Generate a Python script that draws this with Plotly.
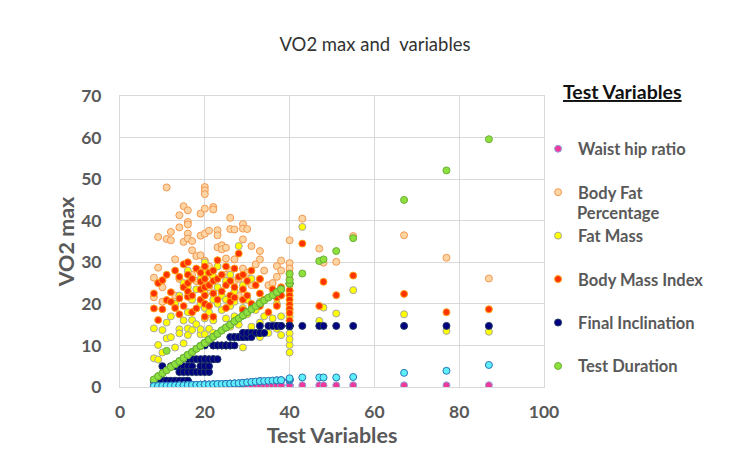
import plotly.graph_objects as go

# ---------------- data ----------------
x_vals = [8, 8, 9, 9, 10, 10, 11, 11, 12, 12, 13, 13, 14, 14, 14, 15, 15, 15,
          16, 16, 16, 16, 16, 17, 17, 17, 18, 18, 19, 19, 19, 19,
          20, 20, 20, 20, 20, 20, 21, 21, 21, 22, 22, 22, 22, 23, 23, 23,
          24, 24, 25, 25, 25, 26, 26, 26, 27, 27, 27, 28, 28, 29, 29, 29, 29,
          30, 30, 31, 31, 32, 33, 33, 33, 34, 35, 36, 37, 37, 38, 38,
          40, 40, 40, 40, 40, 40, 40, 43, 47, 48, 51, 55, 67, 77, 87]

waist_hip = [0.40, 0.42, 0.38, 0.41, 0.43, 0.39, 0.40, 0.44, 0.41, 0.37, 0.42, 0.40, 0.39, 0.43, 0.41, 0.40, 0.38, 0.42,
             0.41, 0.39, 0.43, 0.40, 0.42, 0.38, 0.41, 0.40, 0.43, 0.39, 0.42, 0.40, 0.41, 0.38,
             0.40, 0.42, 0.39, 0.41, 0.43, 0.40, 0.38, 0.42, 0.41, 0.39, 0.40, 0.43, 0.41, 0.42, 0.38, 0.40,
             0.41, 0.39, 0.42, 0.40, 0.43, 0.38, 0.41, 0.40, 0.42, 0.39, 0.41, 0.40, 0.43, 0.38, 0.42, 0.41, 0.40,
             0.39, 0.42, 0.41, 0.40, 0.43, 0.38, 0.41, 0.40, 0.42, 0.39, 0.41, 0.40, 0.42, 0.38, 0.41,
             0.40, 0.42, 0.39, 0.41, 0.43, 0.40, 0.38, 0.42, 0.41, 0.40, 0.39, 0.42, 0.41, 0.40, 0.43]

body_fat = [26.3, 21.6, 36.1, 28.7, 24.0, 20.5, 48.0, 35.6, 37.3, 35.3, 30.7, 22.0, 41.3, 38.4, 26.0, 43.5, 34.9, 24.5,
            42.5, 39.7, 39.1, 36.9, 35.7, 32.9, 35.1, 27.0, 31.5, 25.5, 41.7, 36.4, 31.7, 28.0,
            48.1, 47.3, 46.4, 42.9, 36.9, 30.4, 37.6, 29.0, 24.0, 43.3, 42.7, 26.5, 22.5, 37.7, 36.5, 33.6,
            34.1, 33.1, 33.5, 30.9, 27.0, 40.7, 38.0, 28.0, 37.9, 30.7, 25.5, 26.0, 22.0, 39.2, 38.1, 35.5, 28.5,
            38.0, 27.5, 33.9, 24.5, 29.5, 32.7, 30.7, 26.0, 28.0, 24.5, 25.0, 29.1, 26.5, 30.4, 28.0,
            35.3, 29.8, 28.5, 27.3, 26.0, 24.8, 23.0, 40.5, 33.3, 29.9, 30.1, 36.3, 36.5, 31.1, 26.1]

fat_mass = [14.1, 6.9, 10.1, 6.6, 13.7, 8.3, 11.7, 15.5, 12.0, 17.0, 9.5, 20.0, 13.9, 12.9, 22.0, 16.0, 10.5, 25.0,
            14.1, 18.0, 24.0, 28.0, 12.5, 16.1, 21.0, 13.7, 15.1, 23.5, 12.7, 13.9, 20.0, 26.0,
            12.7, 16.5, 22.5, 27.5, 30.0, 19.0, 18.0, 24.5, 14.0, 21.0, 26.5, 16.0, 13.0, 20.0, 29.0, 24.0,
            22.0, 18.5, 25.5, 16.5, 21.0, 27.0, 14.5, 19.5, 23.0, 17.0, 20.5, 33.9, 15.0, 24.5, 19.0, 12.0, 9.5,
            21.0, 17.5, 26.0, 14.5, 18.5, 20.5, 15.5, 12.0, 17.0, 13.0, 16.5, 14.0, 20.0, 17.0, 12.5,
            16.9, 12.9, 10.1, 8.3, 14.5, 11.5, 18.5, 38.5, 15.9, 19.1, 17.7, 23.3, 17.5, 13.5, 13.3]

bmi = [22.5, 18.9, 16.1, 25.0, 25.7, 18.7, 20.9, 27.0, 22.8, 20.5, 28.0, 19.0, 21.3, 26.5, 17.5, 24.0, 29.5, 19.5,
       21.7, 27.0, 25.0, 23.0, 30.0, 26.0, 22.0, 18.0, 18.9, 28.5, 25.3, 23.5, 21.0, 27.5,
       29.0, 26.0, 24.0, 22.0, 20.0, 16.9, 27.5, 24.5, 19.5, 16.9, 28.0, 25.5, 22.5, 30.5, 26.0, 21.0,
       27.0, 23.0, 29.0, 24.5, 19.0, 25.5, 22.0, 20.5, 28.5, 24.0, 21.5, 32.1, 26.5, 27.0, 23.5, 21.0, 18.5,
       25.5, 22.0, 28.0, 20.0, 24.5, 22.5, 19.5, 26.0, 21.0, 18.0, 23.5, 21.5, 19.5, 24.0, 22.0,
       23.3, 22.0, 21.0, 19.8, 18.8, 17.8, 16.0, 34.5, 19.5, 25.3, 22.1, 26.8, 22.4, 18.0, 18.7]

final_incl = [1.5, 1.5, 1.5, 1.5, 1.5, 5.0, 1.5, 1.5, 1.5, 5.0, 5.0, 1.5, 1.5, 5.0, 3.6, 1.5, 5.0, 3.6,
              1.5, 5.0, 3.6, 6.7, 1.5, 5.0, 6.7, 3.6, 3.6, 6.7, 5.0, 6.7, 3.6, 5.0,
              5.0, 6.7, 3.6, 6.7, 5.0, 10.0, 6.7, 3.6, 5.0, 6.7, 10.0, 10.0, 6.7, 10.0, 10.0, 6.7,
              10.0, 10.0, 10.0, 10.0, 10.0, 10.0, 12.0, 10.0, 12.0, 12.0, 10.0, 12.0, 12.0, 12.0, 13.0, 12.0, 13.0,
              12.0, 13.0, 13.0, 12.0, 13.0, 13.0, 14.7, 13.0, 13.0, 14.7, 14.7, 14.7, 14.7, 14.7, 14.7,
              14.7, 14.7, 14.7, 14.7, 14.7, 14.7, 14.7, 14.7, 14.7, 14.7, 14.7, 14.7, 14.7, 14.7, 14.7]

test_duration = [1.8, 1.8, 2.6, 2.6, 3.3, 3.3, 4.0, 8.7, 4.8, 4.8, 5.5, 5.5, 6.2, 6.2, 6.2, 7.0, 7.0, 7.0,
                 7.7, 7.7, 7.7, 7.7, 7.7, 8.4, 8.4, 8.4, 9.2, 9.2, 9.9, 9.9, 9.9, 9.9,
                 10.6, 10.6, 10.6, 10.6, 10.6, 10.6, 11.4, 11.4, 11.4, 12.1, 12.1, 12.1, 12.1, 12.8, 12.8, 12.8,
                 13.6, 13.6, 14.3, 14.3, 14.3, 15.0, 15.0, 15.0, 15.8, 15.8, 15.8, 16.5, 16.5, 17.2, 17.2, 17.2, 17.2,
                 18.0, 18.0, 18.7, 18.7, 19.4, 20.1, 20.1, 20.1, 20.8, 21.5, 22.1, 22.8, 22.8, 23.5, 23.5,
                 24.9, 24.9, 24.9, 24.9, 24.9, 25.7, 27.2, 27.3, 30.3, 30.7, 32.7, 35.8, 45.0, 52.1, 59.6]

unlabelled = [0.20, 0.20, 0.25, 0.25, 0.30, 0.30, 0.30, 0.30, 0.35, 0.35, 0.35, 0.35, 0.40, 0.40, 0.40, 0.40, 0.40, 0.40,
              0.45, 0.45, 0.45, 0.45, 0.45, 0.50, 0.50, 0.50, 0.50, 0.50, 0.55, 0.55, 0.55, 0.55,
              0.60, 0.60, 0.60, 0.60, 0.60, 0.60, 0.60, 0.60, 0.60, 0.65, 0.65, 0.65, 0.65, 0.70, 0.70, 0.70,
              0.70, 0.70, 0.75, 0.75, 0.75, 0.80, 0.80, 0.80, 0.85, 0.85, 0.85, 0.90, 0.90, 1.00, 1.00, 1.00, 1.00,
              1.10, 1.10, 1.20, 1.20, 1.30, 1.40, 1.40, 1.40, 1.45, 1.50, 1.55, 1.60, 1.60, 1.65, 1.65,
              1.60, 1.60, 1.70, 1.70, 1.80, 1.90, 2.10, 2.30, 2.30, 2.30, 2.30, 2.40, 3.40, 3.90, 5.30]

for arr in (waist_hip, body_fat, fat_mass, bmi, final_incl, test_duration, unlabelled):
    assert len(arr) == len(x_vals), len(arr)

# ---------------- styling ----------------
FONT = "Lato"
GREY = "#595959"

series = [
    ("Waist hip ratio", waist_hip, "#F0389B", "#8FAADC", True),
    ("Body Fat", body_fat, "#FDD5A5", "#F4984E", True),
    ("Fat Mass", fat_mass, "#FFFF00", "#A5A5A5", True),
    ("Body Mass Index", bmi, "#FF3300", "#FFA31A", True),
    ("Final Inclination", final_incl, "#000080", "#1F3864", True),
    ("Test Duration", test_duration, "#8EE03C", "#6AAE3A", True),
    ("Series 7", unlabelled, "#5DEFFA", "#2E75B6", False),
]

fig = go.Figure()
for i, (name, ys, fill, line, show) in enumerate(series):
    fig.add_trace(go.Scatter(
        x=x_vals, y=ys, mode="markers", name=name,
        legendgroup=f"g{i}", showlegend=show,
        marker=dict(size=7, color=fill, line=dict(color=line, width=1)),
    ))

fig.update_layout(
    width=750, height=467,
    margin=dict(l=120, r=206, t=96, b=80),
    paper_bgcolor="white", plot_bgcolor="white",
    title=dict(text="VO2 max and\u00a0 variables", x=0.5, xref="container",
               y=1 - 45 / 467, yref="container", xanchor="center", yanchor="middle",
               font=dict(family=FONT, size=18.5, color="#333333")),
    xaxis=dict(range=[0, 100], dtick=20, tick0=0, showgrid=True, gridcolor="#D9D9D9",
               gridwidth=1, zeroline=False, showline=True, linecolor="#D9D9D9", mirror=True,
               ticks="", ticklabelstandoff=9,
               tickfont=dict(family=FONT, size=17.5, color=GREY, weight="bold"),
               title=dict(text="Test Variables", standoff=0,
                          font=dict(family=FONT, size=21.5, color=GREY, weight="bold"))),
    yaxis=dict(range=[0, 70], dtick=10, tick0=0, showgrid=True, gridcolor="#D9D9D9",
               gridwidth=1, zeroline=False, showline=True, linecolor="#D9D9D9", mirror=True,
               ticks="", ticklabelstandoff=14,
               tickfont=dict(family=FONT, size=17.5, color=GREY, weight="bold"),
               title=dict(text="VO2 max", standoff=0,
                          font=dict(family=FONT, size=21.5, color=GREY, weight="bold"))),
    legend=dict(x=0.986, xanchor="left", y=0.878, yanchor="top",
                traceorder="grouped", tracegroupgap=19,
                font=dict(family=FONT, size=16.5, color=GREY, weight="bold"),
                bgcolor="rgba(0,0,0,0)", itemsizing="trace"),
    annotations=[
        dict(text="<u><b>Test Variables</b></u>", xref="paper", yref="paper",
             x=1.041, y=1.017, xanchor="left", yanchor="middle", showarrow=False,
             font=dict(family=FONT, size=19.5, color="#111111")),
        dict(text="<b>Percentage</b>", xref="paper", yref="paper",
             x=1.073, y=0.598, xanchor="left", yanchor="middle", showarrow=False,
             font=dict(family=FONT, size=16.5, color=GREY)),
    ],
)

fig.write_html("out.html")
